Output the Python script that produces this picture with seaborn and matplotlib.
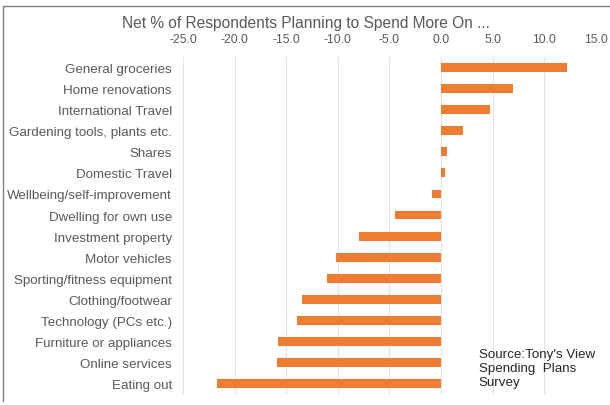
import pandas as pd
import numpy as np
import seaborn as sns
import matplotlib.pyplot as plt
from matplotlib.lines import Line2D

categories = ["General groceries", "Home renovations", "International Travel",
              "Gardening tools, plants etc.", "Shares", "Domestic Travel",
              "Wellbeing/self-improvement", "Dwelling for own use",
              "Investment property", "Motor vehicles", "Sporting/fitness equipment",
              "Clothing/footwear", "Technology (PCs etc.)", "Furniture or appliances",
              "Online services", "Eating out"]
net_pct = [12.2, 7.0, 4.7, 2.1, 0.6, 0.4, -0.9, -4.5,
           -8.0, -10.2, -11.1, -13.5, -14.0, -15.8, -15.9, -21.7]
xticks = [-25, -20, -15, -10, -5, 0, 5, 10, 15]

df = pd.DataFrame({"Category": categories, "Net": net_pct})

sns.set_style("white")
plt.rcParams['font.family'] = ['Liberation Sans', 'DejaVu Sans']

fig = plt.figure(figsize=(6.1, 4.06), dpi=100)
ax = fig.add_axes([0.3, 0.027, 0.677, 0.83])

sns.barplot(data=df, x="Net", y="Category", orient="h", color="#ED7D31",
            saturation=1, width=0.42, linewidth=0, ax=ax, zorder=3)

ax.set_xlim(-25, 15)
ax.set_ylim(15.5, -0.5)
ax.set_xticks(xticks)
ax.set_xticklabels([f"{t:.1f}" for t in xticks])
ax.xaxis.tick_top()
ax.tick_params(axis="x", length=0, pad=9, labelsize=8.8, labelcolor="#595959")
ax.tick_params(axis="y", length=0, pad=8, labelsize=9.6, labelcolor="#595959")
ax.grid(axis="x", color="#e3e3e3", linewidth=0.8, zorder=0)
ax.set_xlabel("")
ax.set_ylabel("")
sns.despine(ax=ax, left=True, bottom=True, top=True, right=True)

fig.text(0.502, 0.943, "Net % of Respondents Planning to Spend More On ...",
         ha="center", va="center", fontsize=11.2, color="#595959")

fig.text(0.785, 0.092, "Source:Tony's View\nSpending  Plans\nSurvey",
         ha="left", va="center", fontsize=9.6, color="#262626", linespacing=1.22)

# outer frame (top and left edges)
fig.add_artist(Line2D([3/610, 1], [1-7/406, 1-7/406], transform=fig.transFigure,
                      color="#7f7f7f", linewidth=1))
fig.add_artist(Line2D([3/610, 3/610], [1-7/406, 1-402/406], transform=fig.transFigure,
                      color="#7f7f7f", linewidth=1))

fig.savefig("out.png", dpi=100)
